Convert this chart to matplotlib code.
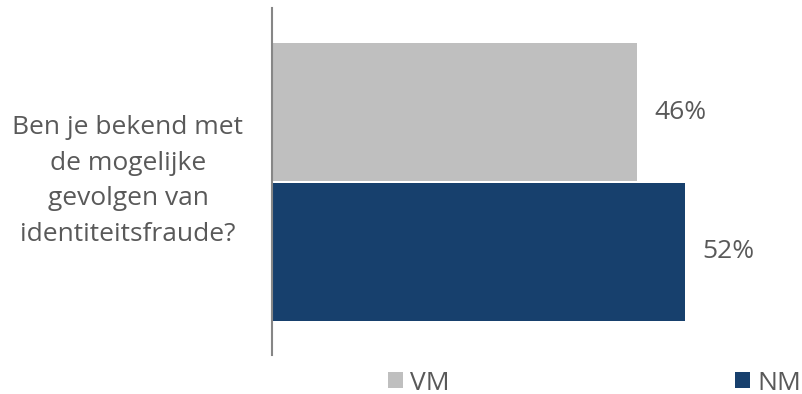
import matplotlib
matplotlib.use("Agg")
from matplotlib import pyplot as plt
from matplotlib.patches import Patch

question = "Ben je bekend met\nde mogelijke\ngevolgen van\nidentiteitsfraude?"
series = ["VM", "NM"]
values = [46, 52]
colors = ["#BFBFBF", "#17406D"]

text_color = "#595959"
plt.rcParams["font.family"] = ["Open Sans", "DejaVu Sans"]

W, H = 803, 394
fig = plt.figure(figsize=(W / 100, H / 100), dpi=100, facecolor="white")
ax = fig.add_axes([272 / W, 1 - 355 / H, (800 - 272) / W, 347 / H])

pos = list(range(len(series)))
ax.barh(pos, values, height=0.986, color=colors)
ax.set_ylim(1.736, -0.743)
ax.set_xlim(0, 528 / 7.94)

for p, v in zip(pos, values):
    ax.annotate(f"{v}%", (v, p), xytext=(12.5, 0), textcoords="offset points",
                va="center", ha="left", fontsize=19, color=text_color)

for s in ["top", "right", "bottom"]:
    ax.spines[s].set_visible(False)
ax.spines["left"].set_color("#868686")
ax.spines["left"].set_linewidth(1.5)
ax.set_xticks([])
ax.set_yticks([])

fig.text(128 / W, 1 - 181 / H, question, ha="center", va="center",
         fontsize=19, color=text_color, linespacing=1.55)

handles = [Patch(facecolor=c, edgecolor="none", label=s) for s, c in zip(series, colors)]
fig.legend(handles=handles, loc="center left", bbox_to_anchor=(388 / W, 1 - 383 / H),
           ncol=2, frameon=False, fontsize=19, labelcolor=text_color,
           handlelength=0.57, handleheight=0.57, handletextpad=0.27,
           columnspacing=10.8, borderaxespad=0, borderpad=0)

fig.savefig("out.png", dpi=100)
